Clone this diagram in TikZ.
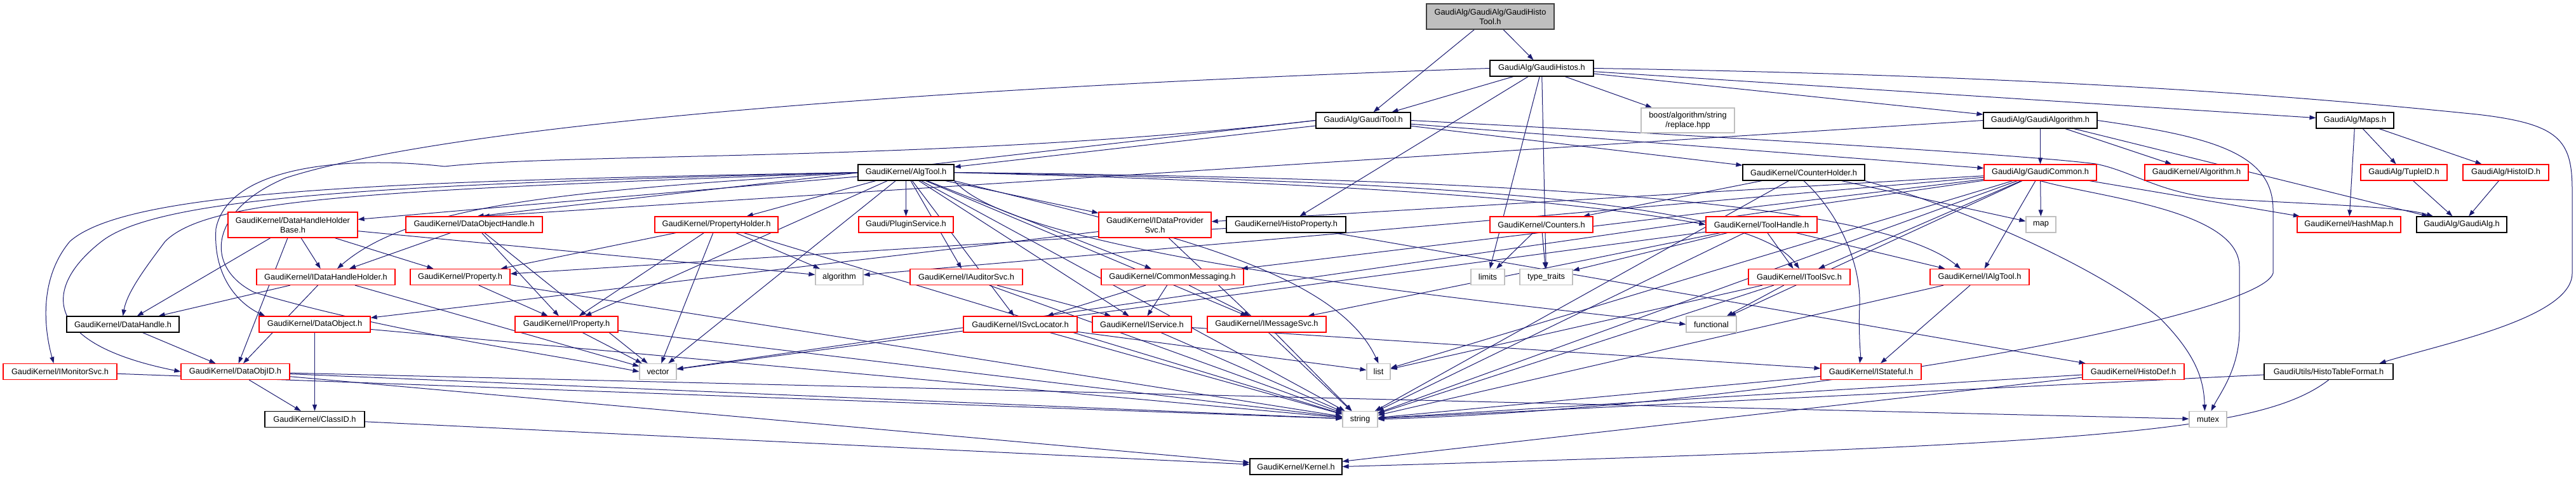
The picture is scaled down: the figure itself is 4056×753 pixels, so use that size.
\documentclass[tikz,border=0pt]{standalone}
\usepackage{fontspec}
\setmainfont{Liberation Sans}
\usetikzlibrary{arrows.meta}
\pgfdeclarelayer{background}
\pgfsetlayers{background,main}
\definecolor{edgec}{HTML}{191970}
\definecolor{sysc}{HTML}{BFBFBF}
\definecolor{topfill}{HTML}{BFBFBF}
\definecolor{topdraw}{HTML}{404040}
\begin{document}
\begin{tikzpicture}[x=1pt,y=-1pt,
  nb/.style={draw=black, line width=1.2pt, fill=white, inner sep=0pt, minimum height=25pt, font=\fontsize{12.8}{15}\selectfont, align=center},
  rb/.style={nb, draw=red},
  gb/.style={nb, draw=sysc},
  e/.style={draw=edgec, line width=1pt, -{Triangle[length=10pt,width=7pt]}}
]
\useasboundingbox (0,0) rectangle (4056,753);
% row 0
\node[nb, fill=topfill, draw=topdraw, minimum width=201pt, minimum height=40pt] (top) at (2346.5,26) {GaudiAlg/GaudiAlg/GaudiHisto\\Tool.h};
% row 1
\node[nb, minimum width=163pt] (GH) at (2427.5,107.5) {GaudiAlg/GaudiHistos.h};
% row 2
\node[nb, minimum width=149pt] (GT) at (2146.5,189.5) {GaudiAlg/GaudiTool.h};
\node[gb, minimum width=147pt, minimum height=39pt] (BO) at (2657.5,189.5) {boost/algorithm/string\\/replace.hpp};
\node[nb, minimum width=179pt] (GA) at (3212.5,189.5) {GaudiAlg/GaudiAlgorithm.h};
\node[nb, minimum width=122pt] (MP) at (3708,189.5) {GaudiAlg/Maps.h};
% row 3
\node[nb, minimum width=151pt] (AT) at (1426.5,271.5) {GaudiKernel/AlgTool.h};
\node[nb, minimum width=192pt] (CH) at (2840,271.5) {GaudiKernel/CounterHolder.h};
\node[rb, minimum width=177pt] (GC) at (3212.5,271.5) {GaudiAlg/GaudiCommon.h};
\node[rb, minimum width=163pt] (ALG) at (3458.5,271.5) {GaudiKernel/Algorithm.h};
\node[rb, minimum width=136pt] (TID) at (3785,271.5) {GaudiAlg/TupleID.h};
\node[rb, minimum width=135pt] (HID) at (3945.5,271.5) {GaudiAlg/HistoID.h};
% row 4
\node[rb, minimum width=204pt, minimum height=40pt] (DHHB) at (461,354) {GaudiKernel/DataHandleHolder\\Base.h};
\node[rb, minimum width=215pt] (DOH) at (746.5,353.5) {GaudiKernel/DataObjectHandle.h};
\node[rb, minimum width=194pt] (PH) at (1128,353.5) {GaudiKernel/PropertyHolder.h};
\node[rb, minimum width=149pt] (PS) at (1426.5,353.5) {Gaudi/PluginService.h};
\node[rb, minimum width=177pt, minimum height=40pt] (IDP) at (1818.5,354) {GaudiKernel/IDataProvider\\Svc.h};
\node[nb, minimum width=188pt] (HP) at (2025,353.5) {GaudiKernel/HistoProperty.h};
\node[rb, minimum width=162pt] (CNT) at (2427,353.5) {GaudiKernel/Counters.h};
\node[rb, minimum width=175pt] (TH) at (2773.5,353.5) {GaudiKernel/ToolHandle.h};
\node[gb, minimum width=47pt] (MAP) at (3213.5,353.5) {map};
\node[rb, minimum width=163pt] (HM) at (3698.5,353.5) {GaudiKernel/HashMap.h};
\node[nb, minimum width=142pt] (GAH) at (3876,353.5) {GaudiAlg/GaudiAlg.h};
% row 5
\node[rb, minimum width=218pt] (IDHH) at (513,436) {GaudiKernel/IDataHandleHolder.h};
\node[rb, minimum width=157pt] (PROP) at (724.5,436) {GaudiKernel/Property.h};
\node[gb, minimum width=75pt] (ALGO) at (1321.5,436) {algorithm};
\node[rb, minimum width=177pt] (IAUD) at (1521.5,436) {GaudiKernel/IAuditorSvc.h};
\node[rb, minimum width=224pt] (CM) at (1846,436) {GaudiKernel/CommonMessaging.h};
\node[gb, minimum width=53pt] (LIM) at (2342.5,436) {limits};
\node[gb, minimum width=83pt] (TT) at (2434.5,436) {type\_traits};
\node[rb, minimum width=160pt] (ITS) at (2833,436) {GaudiKernel/IToolSvc.h};
\node[rb, minimum width=156pt] (IAT) at (3117,436) {GaudiKernel/IAlgTool.h};
% row 6
\node[nb, minimum width=177pt] (DH) at (193.5,510.5) {GaudiKernel/DataHandle.h};
\node[rb, minimum width=175pt] (DO) at (495.5,510.5) {GaudiKernel/DataObject.h};
\node[rb, minimum width=162pt] (IP) at (892,510.5) {GaudiKernel/IProperty.h};
\node[rb, minimum width=179pt] (ISL) at (1606.5,510.5) {GaudiKernel/ISvcLocator.h};
\node[rb, minimum width=156pt] (IS) at (1798,510.5) {GaudiKernel/IService.h};
\node[rb, minimum width=187pt] (IMS) at (1994.5,510.5) {GaudiKernel/IMessageSvc.h};
\node[gb, minimum width=79pt] (FUN) at (2694.5,510.5) {functional};
% row 7
\node[rb, minimum width=179pt] (IMON) at (94.5,585) {GaudiKernel/IMonitorSvc.h};
\node[rb, minimum width=171pt] (DOID) at (370.5,585) {GaudiKernel/DataObjID.h};
\node[gb, minimum width=58pt] (VEC) at (1036,585) {vector};
\node[gb, minimum width=37pt] (LIST) at (2170.5,585) {list};
\node[rb, minimum width=158pt] (IST) at (2946,585) {GaudiKernel/IStateful.h};
\node[rb, minimum width=160pt] (HD) at (3359,585) {GaudiKernel/HistoDef.h};
\node[nb, minimum width=203pt] (HTF) at (3666.5,585) {GaudiUtils/HistoTableFormat.h};
% row 8
\node[nb, minimum width=157pt] (CID) at (495.5,660) {GaudiKernel/ClassID.h};
\node[gb, minimum width=55pt] (STR) at (2141.5,660) {string};
\node[gb, minimum width=59pt] (MUT) at (3476.5,660) {mutex};
% row 9
\node[nb, minimum width=145pt] (KER) at (2040.5,734.5) {GaudiKernel/Kernel.h};

\begin{pgfonlayer}{background}
% top
\draw[e] (top) -- (GH);
\draw[e] (top) -- (GT);
% GaudiHistos
\draw[e] (GH) -- (GT);
\draw[e] (GH) -- (BO);
\draw[e] (GH) -- (GA);
\draw[e] (GH) -- (MP);
\draw[e] (GH) -- (HP);
\draw[e] (GH) -- (LIM);
\draw[e] (GH) -- (TT);
\draw[e] (GH.east) .. controls (3300,120) and (3700,160) .. (3900,180) .. controls (4030,195) and (4050,220) .. (4050,300) -- (4050,430) .. controls (4050,500) and (3850,540) .. ([xshift=80pt]HTF.north);
\draw[e] (GH.west) .. controls (1400,140) and (700,200) .. (450,280) .. controls (330,330) and (320,420) .. (400,460) .. controls (600,520) and (850,555) .. (VEC.west);
% GaudiTool
\draw[e] (GT) -- (AT);
\draw[e] (GT) -- (CH);
\draw[e] (GT) -- (GC);
\draw[e] (GT.east) .. controls (2800,220) and (3200,245) .. (3300,258) .. controls (3360,270) and (3400,305) .. (3500,313) .. controls (3650,322) and (3780,325) .. ([xshift=-45pt]GAH.north);
\draw[e] (GT.west) -- ([xshift=5pt]DOH.north);
\draw[e] (GT.west) .. controls (1500,255) and (900,240) .. (700,262) .. controls (550,245) and (360,260) .. (340,360) .. controls (335,440) and (380,480) .. ([xshift=10pt]DO.north west);
% GaudiAlgorithm
\draw[e] (GA) -- (GC);
\draw[e] (GA) -- (ALG);
\draw[e] (GA) -- (GAH);
\draw[e] (GA.west) -- ([xshift=14pt]DOH.north);
\draw[e] (GA.east) .. controls (3480,215) and (3579,240) .. (3579,330) -- (3579,430) .. controls (3560,500) and (2800,640) .. (STR.east);
% Maps
\draw[e] (MP) -- (TID);
\draw[e] (MP) -- (HID);
\draw[e] (MP) -- (HM);
\draw[e] (TID) -- (GAH);
\draw[e] (HID) -- (GAH);
% AlgTool
\draw[e] (AT) -- (DHHB);
\draw[e] (AT) -- (PH);
\draw[e] (AT) -- (PS);
\draw[e] (AT) -- (IDP);
\draw[e] (AT.west) .. controls (600,285) and (200,300) .. (110,380) .. controls (60,440) and (70,520) .. ([xshift=-10pt]IMON.north);
\draw[e] (AT.west) .. controls (600,290) and (250,310) .. (160,380) .. controls (70,450) and (60,540) .. (DOID.west);
\draw[e] (AT.west) .. controls (600,300) and (330,310) .. (260,380) .. controls (230,420) and (200,460) .. (DH.north);
\draw[e] (AT.west) .. controls (900,300) and (650,320) .. ([xshift=18pt]IDHH.north);
\draw[e] (AT) -- (IP);
\draw[e] (AT) -- (VEC);
\draw[e] (AT) -- (IAUD);
\draw[e] (AT) -- (CM);
\draw[e] (AT) -- (ISL);
\draw[e] (AT) -- (IS);
\draw[e] (AT) -- (IMS);
\draw[e] (AT.south east) .. controls (1800,360) and (2100,420) .. (LIST.north);
\draw[e] (AT.east) .. controls (2200,290) and (2500,320) .. (TH.west);
\draw[e] (AT.east) .. controls (2300,280) and (2950,310) .. ([xshift=-30pt]IAT.north);
\draw[e] (AT.east) .. controls (2300,285) and (2760,320) .. (ITS.north);
\draw[e] (AT) -- (STR);
\draw[e] (AT.south east) .. controls (1600,400) and (2300,470) .. (FUN.west);
% CounterHolder
\draw[e] (CH) -- (CNT);
\draw[e] (CH) -- (MAP);
\draw[e] (CH) -- (STR);
\draw[e] (CH.south) .. controls (2900,340) and (2930,420) .. (2928,480) .. controls (2926,530) and (2930,560) .. ([xshift=-18pt]IST.north);
\draw[e] (CH.south east) .. controls (3100,330) and (3300,420) .. (3400,500) .. controls (3460,560) and (3470,600) .. ([xshift=-5pt]MUT.north);
% GaudiCommon
\draw[e] (GC) -- (IDP);
\draw[e] (GC) -- (CM);
\draw[e] (GC) -- (ITS);
\draw[e] (GC) -- (IAT);
\draw[e] (GC) -- (MAP);
\draw[e] (GC) -- (HM);
\draw[e] (GC.south) .. controls (3300,310) and (3526,330) .. (3526,420) -- (3526,520) .. controls (3526,580) and (3495,620) .. ([xshift=5pt]MUT.north);
\draw[e] (GC) -- (LIST);
\draw[e] (GC) -- (STR);
\draw[e] (GC) -- (VEC);
\draw[e] (GC) -- (ALGO);
\draw[e] (GC) -- (FUN);
% DataHandleHolderBase
\draw[e] (DHHB) -- (IDHH);
\draw[e] (DHHB) -- (DH);
\draw[e] (DHHB) -- (PROP);
\draw[e] (DHHB) -- (DOID);
\draw[e] (DHHB) -- (ALGO);
% DataObjectHandle
\draw[e] (DOH) -- (IDHH);
\draw[e] (DOH) -- (IP);
\draw[e] (DOH) -- (VEC);
% PropertyHolder
\draw[e] (PH) -- (IP);
\draw[e] (PH) -- (PROP);
\draw[e] (PH) -- (VEC);
\draw[e] (PH) -- (ALGO);
\draw[e] (PH) -- (STR);
% IDataProviderSvc
\draw[e] (IDP) -- (DO);
\draw[e] (IDP) -- (STR);
% HistoProperty
\draw[e] (HP) -- (PROP);
\draw[e] (HP) -- (HD);
% Counters
\draw[e] (CNT) -- (LIM);
\draw[e] (CNT) -- (TT);
% ToolHandle
\draw[e] (TH) -- (TT);
\draw[e] (TH) -- (ITS);
\draw[e] (TH) -- (IAT);
\draw[e] (TH) -- (IMS);
\draw[e] (TH) -- (VEC);
\draw[e] (TH) -- (STR);
% row 5 sources
\draw[e] (IDHH) -- (DH);
\draw[e] (IDHH) -- (DOID);
\draw[e] (IDHH) -- (VEC);
\draw[e] (PROP) -- (IP);
\draw[e] (PROP) -- (STR);
\draw[e] (IAUD) -- (IS);
\draw[e] (IAUD) -- (STR);
\draw[e] (CM) -- (ISL);
\draw[e] (CM) -- (IS);
\draw[e] (CM) -- (IMS);
\draw[e] (ITS) -- (FUN);
\draw[e] (ITS) -- (LIST);
\draw[e] (ITS) -- (STR);
\draw[e] (IAT) -- (IST);
\draw[e] (IAT) -- (STR);
% row 6 sources
\draw[e] (DH) -- (DOID);
\draw[e] (DO) -- (CID);
\draw[e] (DO) -- (STR);
\draw[e] (IP) -- (VEC);
\draw[e] (IP) -- (STR);
\draw[e] (ISL) -- (LIST);
\draw[e] (ISL) -- (STR);
\draw[e] (IS) -- (STR);
\draw[e] (IS) -- (IST);
\draw[e] (IMS) -- (STR);
% row 7 sources
\draw[e] (IMON) -- (STR);
\draw[e] (DOID) -- (CID);
\draw[e] (DOID) -- (STR);
\draw[e] (DOID) -- (MUT);
\draw[e] (DOID) -- (KER);
\draw[e] (IST) -- (STR);
\draw[e] (HD) -- (STR);
\draw[e] (HD) -- (KER);
\draw[e] (HTF) -- (STR);
\draw[e] (HTF.south) .. controls (3560,680) and (3300,700) .. (KER.east);
% row 8
\draw[e] (CID) -- (KER);
\end{pgfonlayer}
\end{tikzpicture}
\end{document}
